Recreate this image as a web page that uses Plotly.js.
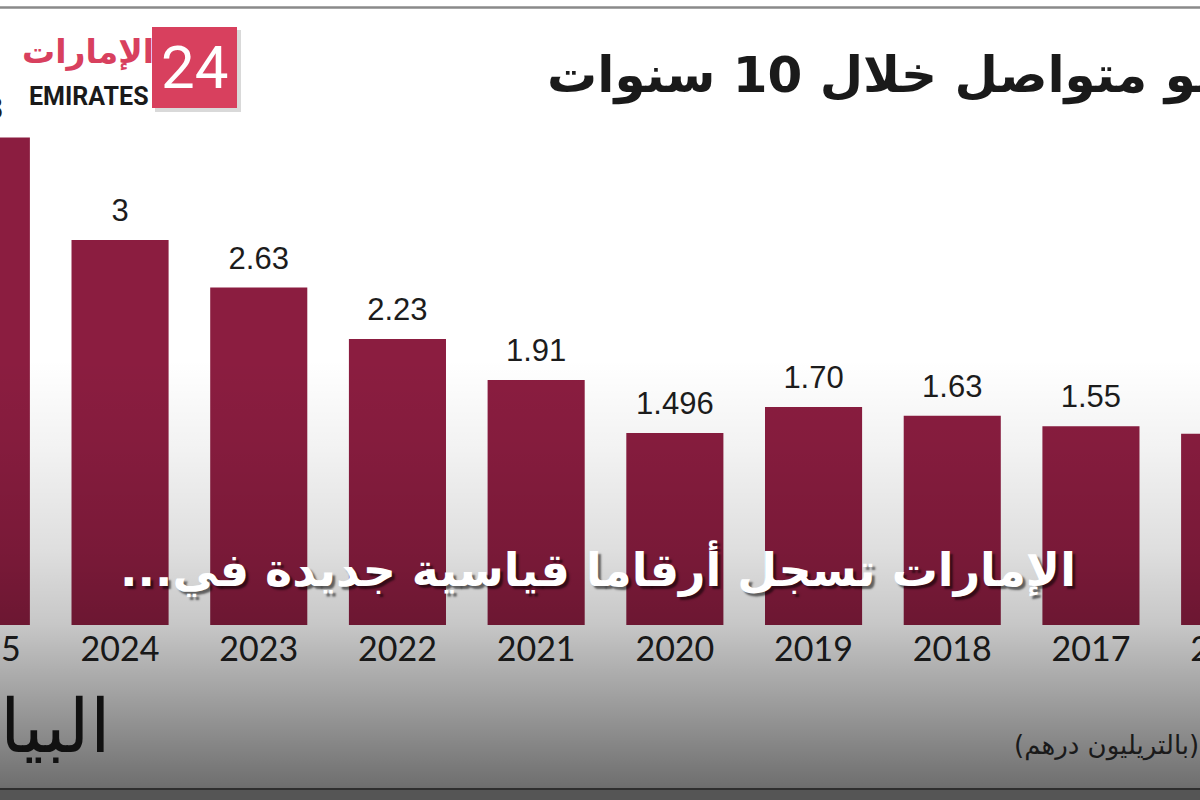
<!DOCTYPE html>
<html>
<head>
<meta charset="utf-8">
<script src="https://cdn.plot.ly/plotly-3.0.1.min.js"></script>
<style>
html,body{margin:0;padding:0;background:#fff;overflow:hidden;width:1200px;height:800px;}
#chart{position:absolute;left:-88px;top:0;width:1387px;height:800px;}
</style>
</head>
<body>
<div id="chart"></div>
<script>
// Data (trillion AED)
const years = ['2025','2024','2023','2022','2021','2020','2019','2018','2017','2016'];
const values = [3.80, 3.00, 2.63, 2.23, 1.91, 1.496, 1.70, 1.63, 1.55, 1.49];
const valueLabels = ['3.8','3','2.63','2.23','1.91','1.496','1.70','1.63','1.55','1.49'];

const titleText = 'نمو متواصل خلال 10 سنوات';
const headlineText = 'الإمارات تسجل أرقاما قياسية جديدة في...\u200F';
const unitText = '\u200F(بالتريليون درهم)\u200F';
const sourceText = 'البيان';
const logoArabic = 'الإمارات';
const logoLatin = 'EMIRATES';
const logoNumber = '24';

// The figure is wider than the 1200px window and shifted left, so the
// outer bars are cropped by the window edge as in the reference.
const OFFSET = 88, W = 1387, H = 800;
const px = x => (x + OFFSET) / W;   // window pixel -> paper x
const py = y => 1 - y / H;          // window pixel -> paper y

const arabicFont = 'DejaVu Sans, Noto Sans, sans-serif';
const yTop = 625 / 128.3;       // value range shown in plot area
const labelLift = 0.085;        // value labels sit above bar tops

const barTrace = {
  type: 'bar', x: years, y: values, width: 0.70,
  marker: { color: '#8b1d40', line: { width: 0 } },
  hoverinfo: 'skip'
};

const valueTrace = {
  type: 'scatter', mode: 'text', x: years, y: values, text: valueLabels,
  yaxis: 'y2', textposition: 'top center', cliponaxis: false,
  textfont: { family: 'Liberation Sans, Arial, sans-serif', size: 31, color: '#1c1c1c' },
  hoverinfo: 'skip'
};

// dark gradient overlay (decoration)
const overlaySvg =
  "<svg xmlns='http://www.w3.org/2000/svg' width='1200' height='800' viewBox='0 0 1200 800' preserveAspectRatio='none'>" +
  "<defs><linearGradient id='g' x1='0' y1='0' x2='0' y2='1'>" +
  "<stop offset='0' stop-color='#000' stop-opacity='0'/>" +
  "<stop offset='0.45' stop-color='#000' stop-opacity='0'/>" +
  "<stop offset='0.56' stop-color='#000' stop-opacity='0.05'/>" +
  "<stop offset='0.69' stop-color='#000' stop-opacity='0.13'/>" +
  "<stop offset='0.78' stop-color='#000' stop-opacity='0.22'/>" +
  "<stop offset='0.875' stop-color='#000' stop-opacity='0.38'/>" +
  "<stop offset='0.98' stop-color='#000' stop-opacity='0.56'/>" +
  "<stop offset='1' stop-color='#000' stop-opacity='0.62'/>" +
  "</linearGradient></defs><rect x='0' y='0' width='1200' height='800' fill='url(#g)'/></svg>";
const overlaySrc = 'data:image/svg+xml;base64,' + btoa(overlaySvg);

const layout = {
  width: W, height: H,
  margin: { l: 0, r: 0, t: 0, b: 0, pad: 0 },
  paper_bgcolor: '#ffffff',
  plot_bgcolor: 'rgba(0,0,0,0)',
  showlegend: false,
  xaxis: {
    type: 'category',
    categoryorder: 'array', categoryarray: years,
    range: [-0.5, 9.5],
    showgrid: false, zeroline: false, showline: false,
    ticks: '', ticklen: 0,
    tickfont: { family: 'Lato, sans-serif', size: 34, color: '#222' },
    ticklabelstandoff: 1,
    fixedrange: true
  },
  yaxis: { domain: [175 / 800, 1], range: [0, yTop], visible: false, fixedrange: true },
  yaxis2: { overlaying: 'y', range: [-labelLift, yTop - labelLift], visible: false, fixedrange: true },
  images: [{
    source: overlaySrc, xref: 'paper', yref: 'paper',
    x: 0, y: 1, sizex: 1, sizey: 1, sizing: 'stretch',
    xanchor: 'left', yanchor: 'top', layer: 'above', opacity: 1
  }],
  shapes: [
    { type: 'line', xref: 'paper', yref: 'paper', x0: 0, x1: 1, y0: py(7.5), y1: py(7.5),
      line: { color: '#8a8a8a', width: 2.5 } },
    { type: 'line', xref: 'paper', yref: 'paper', x0: 0, x1: 1, y0: py(789), y1: py(789),
      line: { color: '#2e2e2e', width: 2 } },
    { type: 'rect', xref: 'paper', yref: 'paper', x0: 0, x1: 1, y0: py(790), y1: py(800),
      fillcolor: '#555555', line: { width: 0 }, layer: 'above' },
    { type: 'rect', xref: 'paper', yref: 'paper', x0: px(155), x1: px(241), y0: py(112), y1: py(30),
      fillcolor: 'rgba(0,0,0,0.15)', line: { width: 0 }, layer: 'above' },
    { type: 'rect', xref: 'paper', yref: 'paper', x0: px(152), x1: px(237), y0: py(108), y1: py(27),
      fillcolor: '#d8405e', line: { width: 0 }, layer: 'above' }
  ],
  annotations: [
    { xref: 'paper', yref: 'paper', x: px(545), y: py(75), xanchor: 'left', yanchor: 'middle',
      text: titleText, showarrow: false,
      font: { family: arabicFont, size: 50, color: '#1a1a1a', weight: 'bold' } },
    { xref: 'paper', yref: 'paper', x: px(598), y: py(568), xanchor: 'center', yanchor: 'middle',
      text: headlineText, showarrow: false,
      font: { family: arabicFont, size: 46, color: '#ffffff', weight: 'bold',
              shadow: '3px 3px 2px rgba(0,0,0,0.55)' } },
    { xref: 'paper', yref: 'paper', x: px(1012), y: py(745), xanchor: 'left', yanchor: 'middle',
      text: unitText, showarrow: false,
      font: { family: arabicFont, size: 26, color: '#1a1a1a' } },
    { xref: 'paper', yref: 'paper', x: px(113), y: py(726), xanchor: 'right', yanchor: 'middle',
      text: sourceText, showarrow: false,
      font: { family: 'DejaVu Serif, serif', size: 74, color: '#111' } },
    { xref: 'paper', yref: 'paper', x: px(194.5), y: py(68), xanchor: 'center', yanchor: 'middle',
      text: logoNumber, showarrow: false,
      font: { family: 'Roboto, sans-serif', size: 60, color: '#ffffff' } },
    { xref: 'paper', yref: 'paper', x: px(88), y: py(52), xanchor: 'center', yanchor: 'middle',
      text: logoArabic, showarrow: false,
      font: { family: arabicFont, size: 33, color: '#d8405e', weight: 'bold' } },
    { xref: 'paper', yref: 'paper', x: px(89), y: py(97), xanchor: 'center', yanchor: 'middle',
      text: logoLatin, showarrow: false,
      font: { family: 'Roboto, sans-serif', size: 25, color: '#1a1a1a', weight: 'bold' } }
  ]
};

Plotly.newPlot('chart', [barTrace, valueTrace], layout, { displayModeBar: false, staticPlot: true });
</script>
</body>
</html>
